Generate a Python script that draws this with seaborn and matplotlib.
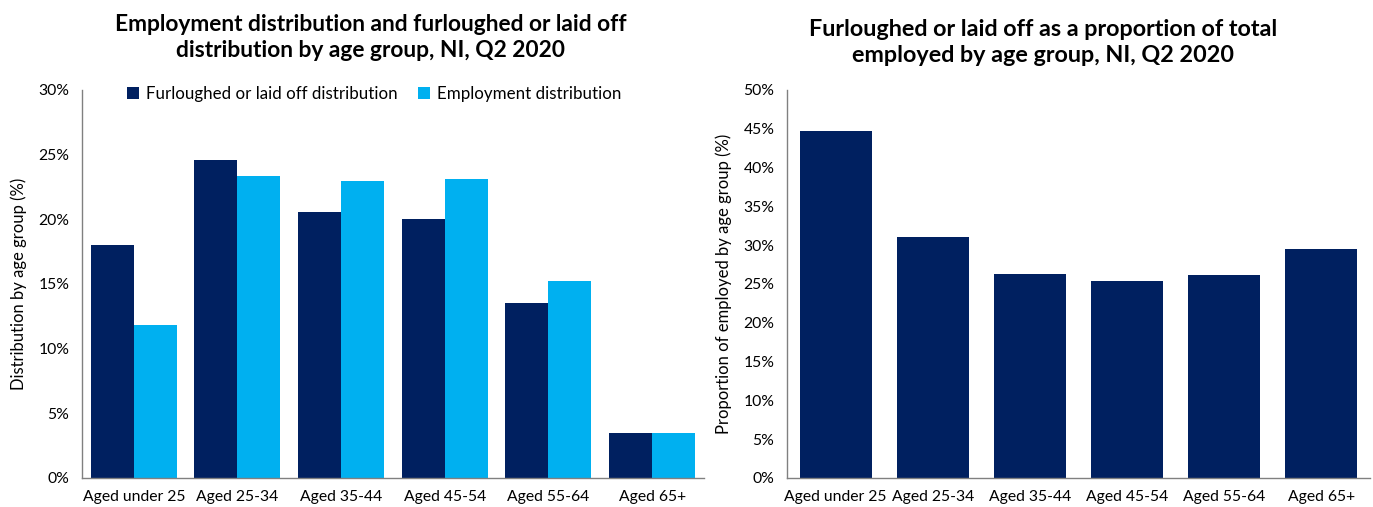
import numpy as np
import pandas as pd
import matplotlib
matplotlib.use("Agg")
import matplotlib.pyplot as plt
import seaborn as sns
from matplotlib.ticker import PercentFormatter

categories = ["Aged under 25", "Aged 25-34", "Aged 35-44", "Aged 45-54", "Aged 55-64", "Aged 65+"]
furloughed_dist = [18.0, 24.6, 20.6, 20.0, 13.5, 3.5]
employment_dist = [11.85, 23.35, 23.0, 23.15, 15.2, 3.5]
furloughed_prop = [44.7, 31.1, 26.3, 25.4, 26.2, 29.5]
series_names = ["Furloughed or laid off distribution", "Employment distribution"]

NAVY = "#002060"
CYAN = "#00B0F0"

sns.set_theme(style="white")
plt.rcParams['font.family'] = ['Lato', 'DejaVu Sans']
plt.rcParams['text.color'] = '#000000'

df_left = pd.DataFrame({
    "age": categories * 2,
    "value": furloughed_dist + employment_dist,
    "series": [series_names[0]] * len(categories) + [series_names[1]] * len(categories),
})
df_right = pd.DataFrame({"age": categories, "value": furloughed_prop})

fig = plt.figure(figsize=(13.73, 5.07), dpi=100)
ax1 = fig.add_axes([0.0597, 0.0572, 0.453, 0.7653])
ax2 = fig.add_axes([0.5732, 0.0572, 0.4246, 0.7653])

sns.barplot(data=df_left, x="age", y="value", hue="series", order=categories,
            hue_order=series_names, palette=[NAVY, CYAN], width=0.83, gap=0,
            saturation=1, ax=ax1, errorbar=None, linewidth=0)
sns.barplot(data=df_right, x="age", y="value", order=categories, color=NAVY,
            width=0.74, saturation=1, ax=ax2, errorbar=None, linewidth=0)

for ax, ymax, ylabel in [(ax1, 30, "Distribution by age group (%)"),
                         (ax2, 50, "Proportion of employed by age group (%)")]:
    ax.set_ylim(0, ymax)
    ax.set_yticks(np.arange(0, ymax + 0.1, 5))
    ax.yaxis.set_major_formatter(PercentFormatter(decimals=0))
    ax.set_xlim(-0.5, 5.5)
    ax.set_xlabel("")
    ax.set_ylabel(ylabel, fontsize=12, color="#000000", labelpad=8)
    ax.tick_params(axis="both", length=0, labelsize=11.3, colors="#000000", pad=9)
    for s in ["top", "right"]:
        ax.spines[s].set_visible(False)
    for s in ["left", "bottom"]:
        ax.spines[s].set_color("#808080")
        ax.spines[s].set_linewidth(1.0)

leg = ax1.legend(loc="upper center", bbox_to_anchor=(0.47, 1.05), ncol=2, frameon=False,
                 fontsize=12.2, handlelength=0.7, handleheight=0.7, handletextpad=0.4,
                 columnspacing=1.2)

fig.text(0.27, 0.972, "Employment distribution and furloughed or laid off\ndistribution by age group, NI, Q2 2020",
         ha="center", va="top", fontsize=16.4, fontweight="bold", linespacing=1.3)
fig.text(0.7595, 0.962, "Furloughed or laid off as a proportion of total\nemployed by age group, NI, Q2 2020",
         ha="center", va="top", fontsize=16.8, fontweight="bold", linespacing=1.25)

fig.savefig("out.png", dpi=100)
